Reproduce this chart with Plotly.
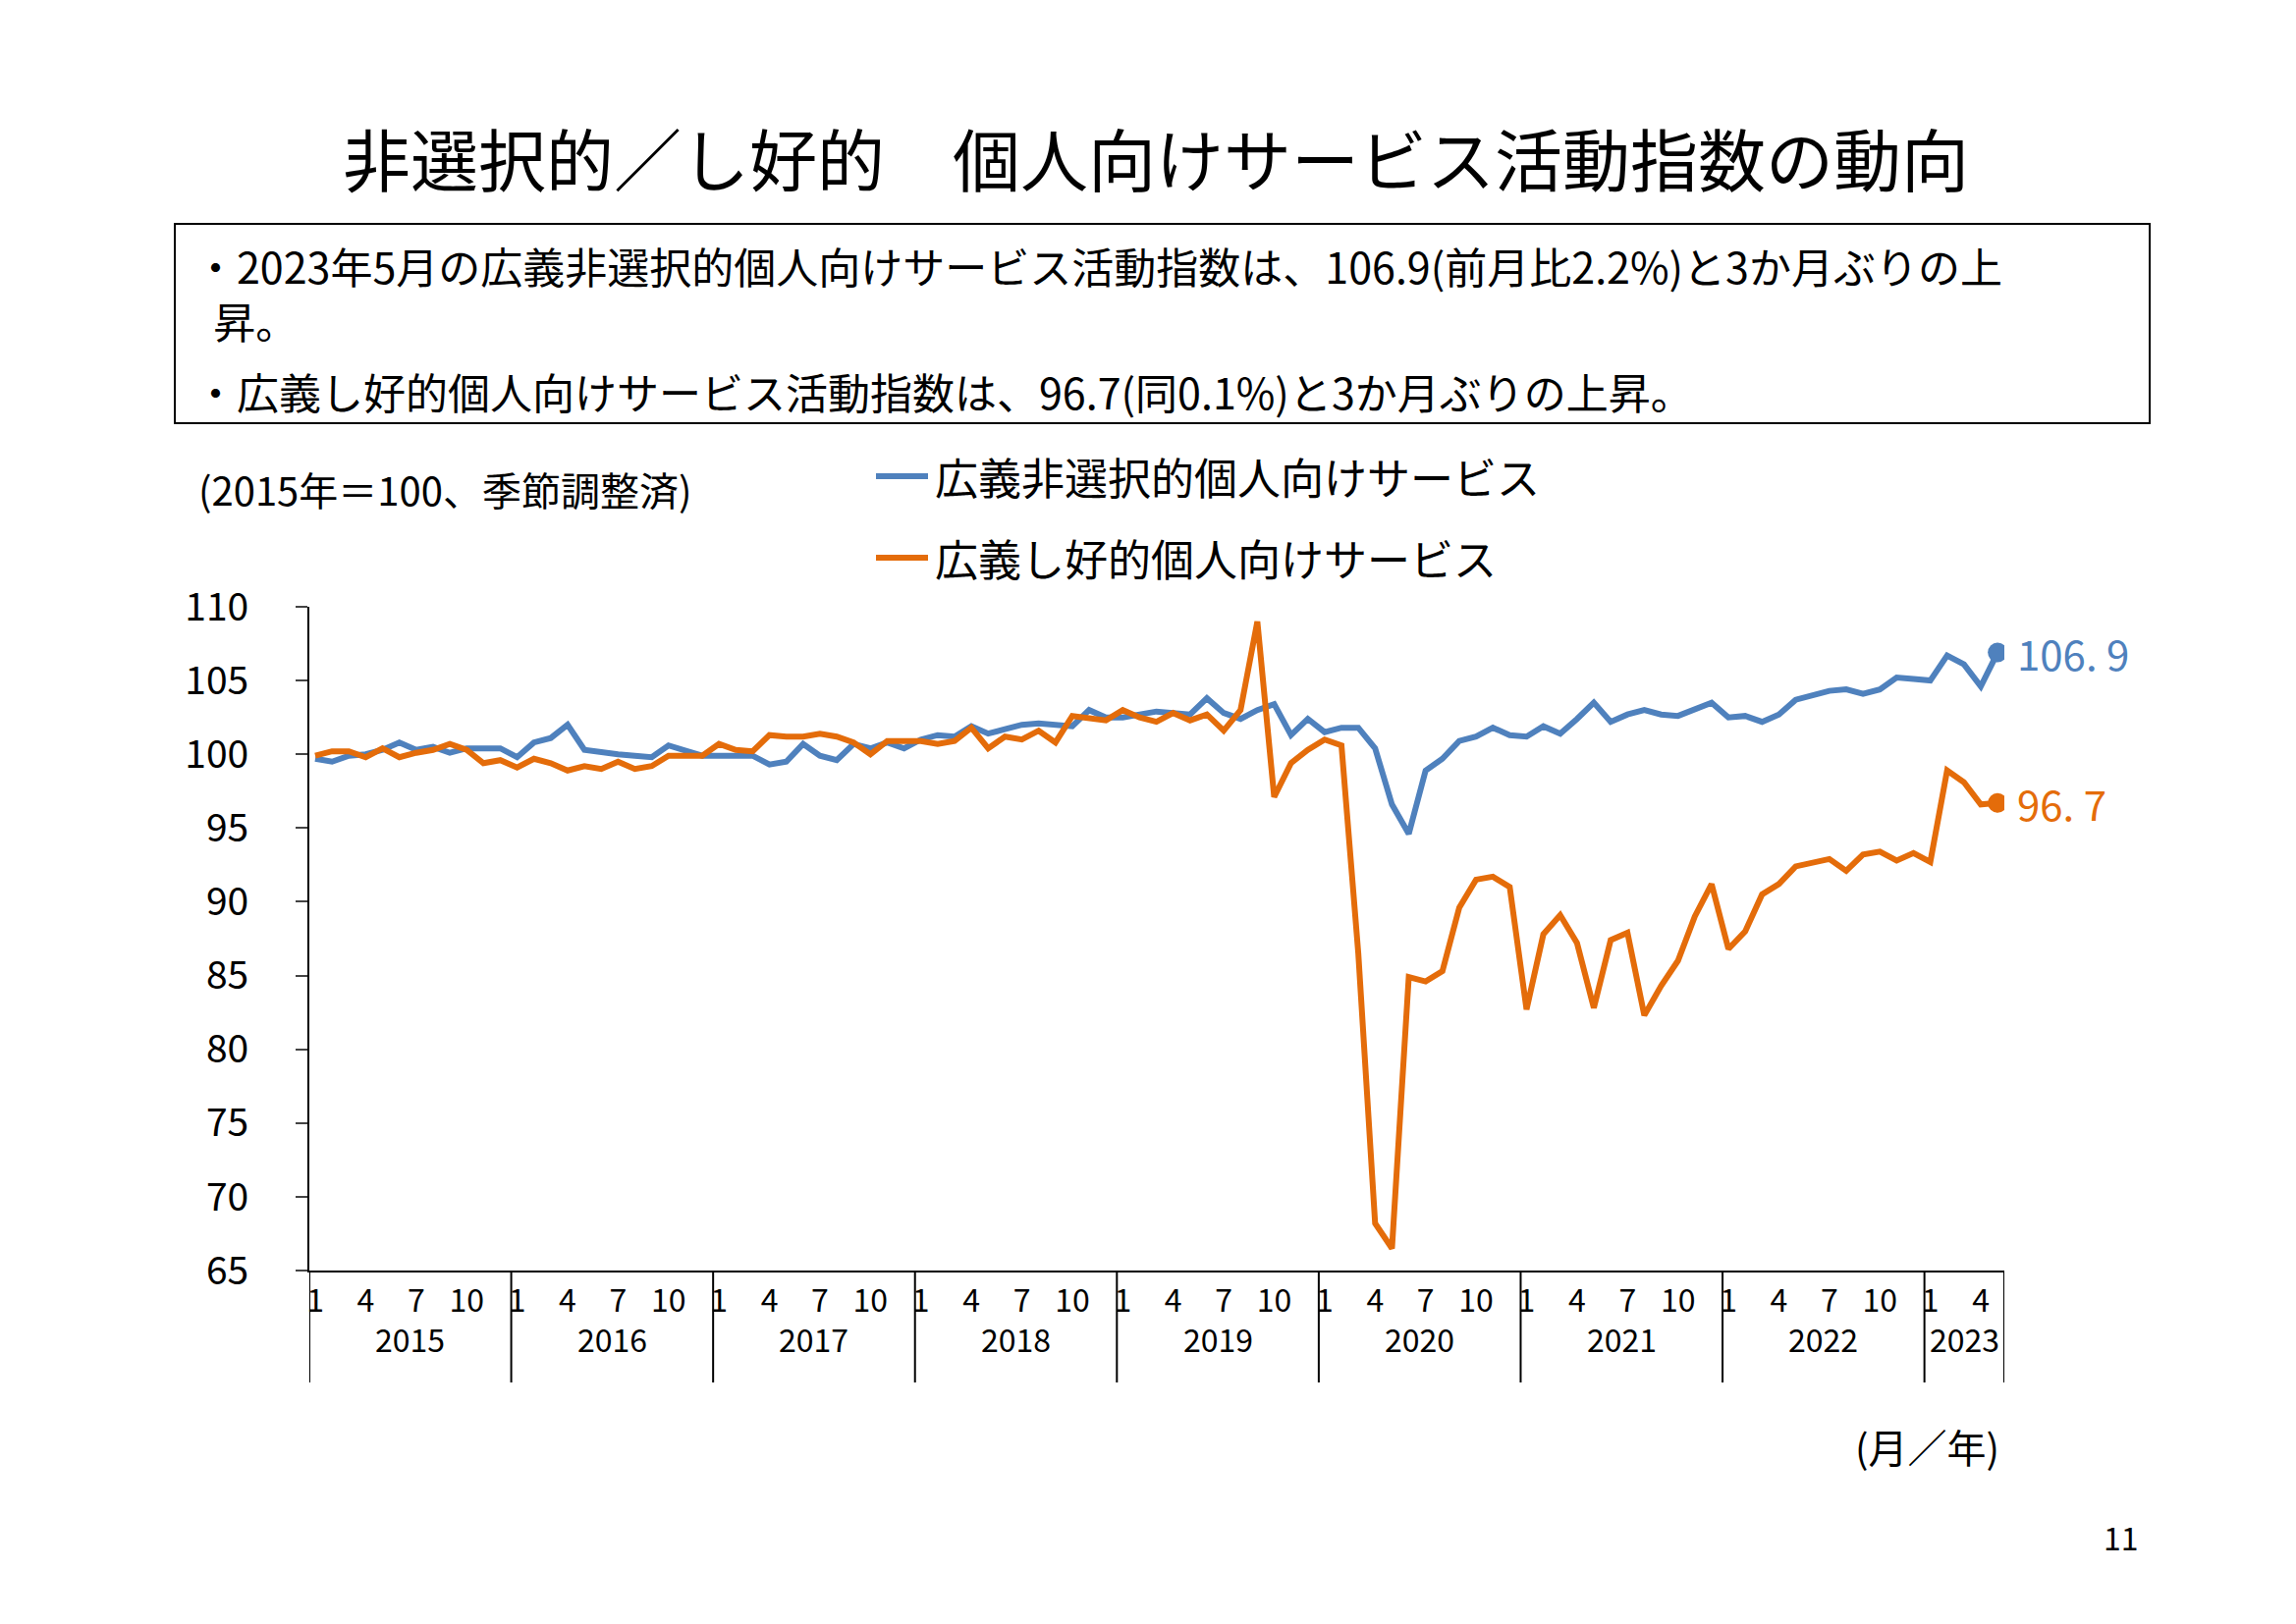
import plotly.graph_objects as go

W, H = 2338, 1654
L, R, T, B = 307, 2033, 610, 1286  # plot area in page pixels
FONT = "Noto Sans CJK JP"

years = [2015, 2016, 2017, 2018, 2019, 2020, 2021, 2022, 2023]
month_ticks = [1, 4, 7, 10]

non_selective = [
    99.7, 99.5, 99.9, 100.0, 100.3, 100.8, 100.3, 100.5, 100.1, 100.4, 100.4, 100.4,
    99.8, 100.8, 101.1, 102.0, 100.3, 100.1, 100.0, 99.9, 99.8, 100.6, 100.2, 99.9,
    99.9, 99.9, 99.9, 99.3, 99.5, 100.7, 99.9, 99.6, 100.7, 100.4, 100.8, 100.4,
    101.0, 101.3, 101.2, 101.9, 101.4, 101.7, 102.0, 102.1, 102.0, 101.9, 103.0, 102.5,
    102.5, 102.7, 102.9, 102.8, 102.7, 103.8, 102.8, 102.4, 103.0, 103.4, 101.3, 102.4,
    101.5, 101.8, 101.8, 100.4, 96.6, 94.6, 98.9, 99.7, 100.9, 101.2, 101.8, 101.3,
    101.2, 101.9, 101.4, 102.4, 103.5, 102.2, 102.7, 103.0, 102.7, 102.6, 103.1, 103.5,
    102.5, 102.6, 102.2, 102.7, 103.7, 104.0, 104.3, 104.4, 104.1, 104.4, 105.2, 105.1,
    105.0, 106.7, 106.1, 104.6, 106.9,
]
selective = [
    99.9, 100.2, 100.2, 99.8, 100.4, 99.8, 100.1, 100.3, 100.7, 100.3, 99.4, 99.6,
    99.1, 99.7, 99.4, 98.9, 99.2, 99.0, 99.5, 99.0, 99.2, 99.9, 99.9, 99.9,
    100.7, 100.3, 100.2, 101.3, 101.2, 101.2, 101.4, 101.2, 100.8, 100.0, 100.9, 100.9,
    100.9, 100.7, 100.9, 101.8, 100.4, 101.2, 101.0, 101.6, 100.8, 102.6, 102.5, 102.3,
    103.0, 102.5, 102.2, 102.8, 102.3, 102.7, 101.6, 103.0, 109.0, 97.1, 99.4, 100.3,
    101.0, 100.6, 86.5, 68.2, 66.5, 84.9, 84.6, 85.3, 89.6, 91.5, 91.7, 91.0,
    82.7, 87.8, 89.1, 87.2, 82.8, 87.4, 87.9, 82.3, 84.3, 86.0, 89.0, 91.2,
    86.8, 88.0, 90.5, 91.2, 92.4, 92.6, 92.9, 92.1, 93.2, 93.4, 92.8, 93.3,
    92.7, 98.9, 98.1, 96.6, 96.7,
]
names = ["広義非選択的個人向けサービス", "広義し好的個人向けサービス"]

BLUE = "#4f81bd"
ORANGE = "#e46c0a"


def px_x(p):
    return (p - L) / (R - L)


def px_y(p):
    return (B - p) / (B - T)


def text(x, y, s, size, xanchor="left", color="black", yanchor="middle"):
    fig.add_annotation(xref="paper", yref="paper", x=px_x(x), y=px_y(y), text=s, showarrow=False,
                       xanchor=xanchor, yanchor=yanchor, align="left",
                       font=dict(size=size, family=FONT, color=color))


n = len(non_selective)
x = list(range(n))

fig = go.Figure()
for s, c, nm, ly in [(non_selective, BLUE, names[0], 477), (selective, ORANGE, names[1], 560)]:
    fig.add_trace(go.Scatter(x=x, y=s, mode="lines", name=nm, showlegend=False,
                             line=dict(color=c, width=6)))
    fig.add_trace(go.Scatter(x=[n - 1], y=[s[-1]], mode="markers", showlegend=False,
                             marker=dict(color=c, size=20)))
    fig.add_annotation(x=n - 1, y=s[-1], text=f"{s[-1]:.1f}".replace(".", ". "), showarrow=False,
                       xanchor="left", xshift=18, font=dict(size=42, color=c, family=FONT))
    # legend entry
    fig.add_shape(type="line", xref="paper", yref="paper", x0=px_x(884), x1=px_x(937),
                  y0=px_y(ly), y1=px_y(ly), line=dict(color=c, width=6))
    text(942, ly, nm, 44)

# month tick labels
tickvals, ticktext = [], []
for i in range(n):
    m = i % 12 + 1
    if m in month_ticks:
        tickvals.append(i)
        ticktext.append(str(m))

# year separators and labels
bounds = [12 * k - 0.35 for k in range(len(years))] + [n - 0.6]
for b in bounds:
    fig.add_shape(type="line", xref="x", yref="paper", x0=b, x1=b, y0=0, y1=px_y(1400),
                  line=dict(color="black", width=2))
for k, yr in enumerate(years):
    fig.add_annotation(x=(bounds[k] + bounds[k + 1]) / 2, y=px_y(1380), xref="x", yref="paper",
                       text=str(yr), showarrow=False, font=dict(size=32, family=FONT, color="black"))

# title and text box
text(W / 2, 152, "非選択的／し好的　個人向けサービス活動指数の動向", 69, xanchor="center")
fig.add_shape(type="rect", xref="paper", yref="paper", x0=px_x(170), x1=px_x(2181),
              y0=px_y(423), y1=px_y(220), line=dict(color="black", width=2))
text(188, 290, "・2023年5月の広義非選択的個人向けサービス活動指数は、106.9(前月比2.2%)と3か月ぶりの上<br>"
               "  昇。", 43)
text(188, 390, "・広義し好的個人向けサービス活動指数は、96.7(同0.1%)と3か月ぶりの上昇。", 43)
text(192, 490, "(2015年＝100、季節調整済)", 40)
text(2030, 1465, "(月／年)", 40, xanchor="right")
text(2172, 1557, "11", 32, xanchor="right")

fig.update_layout(
    width=W, height=H,
    margin=dict(l=L, r=W - R, t=T, b=H - B, autoexpand=False),
    paper_bgcolor="white", plot_bgcolor="white",
    font=dict(family=FONT, color="black"),
    showlegend=False,
    xaxis=dict(range=[-0.35, n - 0.6], tickvals=tickvals, ticktext=ticktext, showgrid=False,
               zeroline=False, showline=True, linecolor="black", linewidth=2, ticks="",
               tickfont=dict(size=32), ticklabelstandoff=2),
    yaxis=dict(range=[65, 110], dtick=5, showgrid=False, zeroline=False, showline=True,
               linecolor="black", linewidth=2, ticks="outside", ticklen=12, tickwidth=2,
               tickfont=dict(size=39), ticklabelstandoff=40),
)

fig.write_html("out.html")
